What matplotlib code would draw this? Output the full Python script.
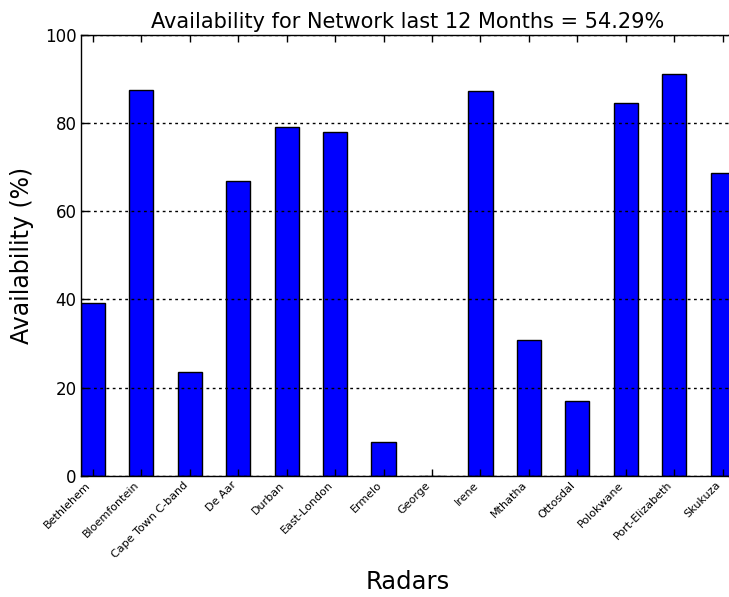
import matplotlib
matplotlib.use("Agg")
import matplotlib.pyplot as plt
import numpy as np

radars = ["Bethlehem", "Bloemfontein", "Cape Town C-band", "De Aar", "Durban",
          "East-London", "Ermelo", "George", "Irene", "Mthatha", "Ottosdal",
          "Polokwane", "Port-Elizabeth", "Skukuza"]
availability = [39.1, 87.5, 23.6, 66.9, 79.1, 77.9, 7.6, 0.0, 87.4, 30.8,
                17.0, 84.5, 91.2, 68.6]
network_availability = 54.29

plt.rcParams["font.family"] = "DejaVu Sans"

fig = plt.figure(figsize=(7.29, 5.97), dpi=100)
# plotting area runs slightly past the right edge of the canvas
ax = fig.add_axes([0.1107, 0.2032, 1.008 - 0.1107, 0.9414 - 0.2032])

x = np.arange(len(radars))
ax.bar(x, availability, width=0.5, color="#0000ff", edgecolor="black",
       linewidth=1.0, zorder=1)

ax.set_xlim(-0.25, len(radars) - 0.75)
ax.set_ylim(0, 100)
ax.set_yticks([0, 20, 40, 60, 80, 100])
ax.set_xticks(x)
ax.set_xticklabels(radars, rotation=45, ha="right", va="top", fontsize=8)
ax.tick_params(axis="y", labelsize=12)
ax.tick_params(direction="in", top=True, right=True, length=5, width=1,
               pad=3)

ax.set_axisbelow(False)
ax.yaxis.grid(True, linestyle=(0, (2, 2.5)), color="black", linewidth=1.0,
              zorder=3)

for s in ax.spines.values():
    s.set_linewidth(1.0)

ax.set_title(f"Availability for Network last 12 Months = {network_availability:.2f}%",
             fontsize=15, pad=5)
ax.set_xlabel("Radars", fontsize=17.5)
ax.set_ylabel("Availability (%)", fontsize=17)
ax.xaxis.set_label_coords(0.5, -0.213)
ax.yaxis.set_label_coords(-0.072, 0.5)

fig.savefig("out.png", dpi=100)
